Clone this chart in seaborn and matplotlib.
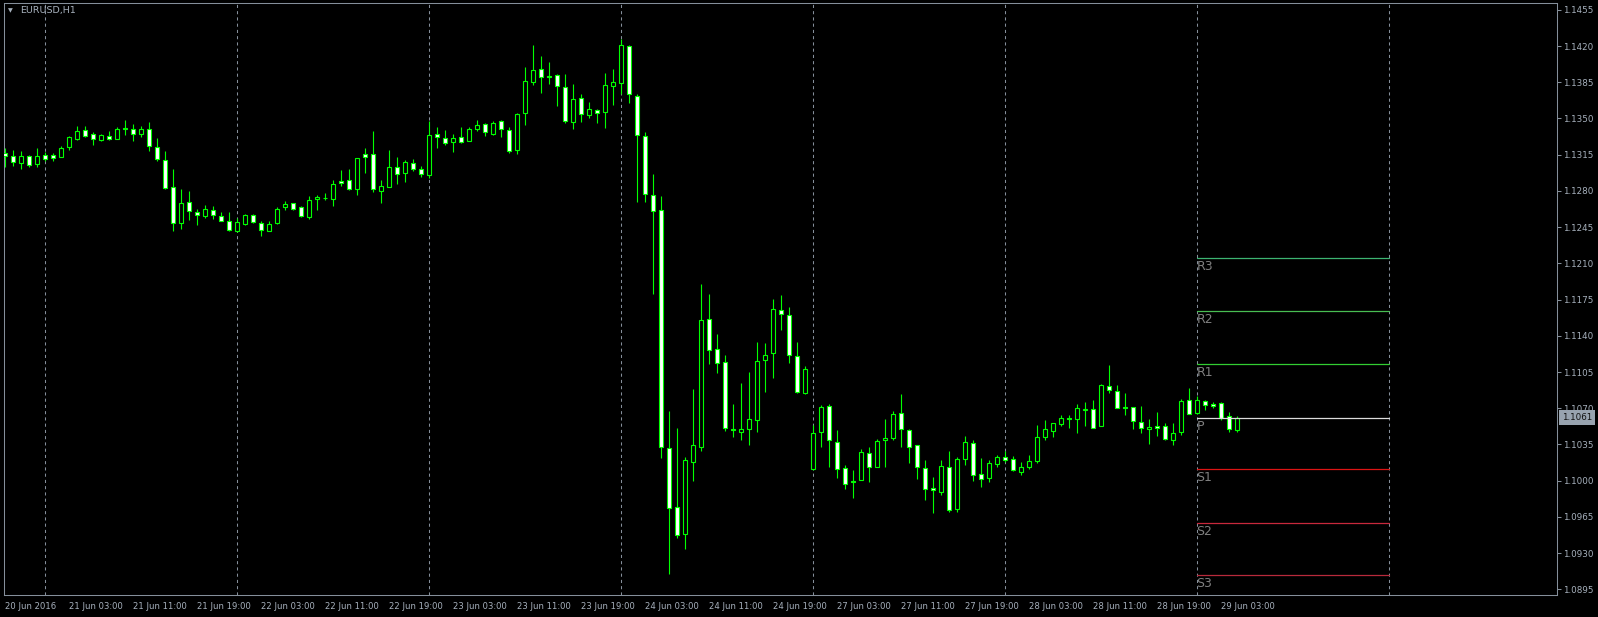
import numpy as np
import pandas as pd
import matplotlib
matplotlib.use("Agg")
import matplotlib.pyplot as plt
import matplotlib.transforms as mtransforms
import seaborn as sns

# EURUSD H1 candles, 20 Jun 2016 19:00 -> 29 Jun 2016 05:00 (weekend skipped)
open_ = [1.1317, 1.1314, 1.1307, 1.1314, 1.1306, 1.1315, 1.1315, 1.1313, 1.1322, 1.1330,
         1.1339, 1.1335, 1.1329, 1.1333, 1.1330, 1.1341, 1.1340, 1.1335, 1.1340, 1.1322,
         1.1310, 1.1284, 1.1249, 1.1269, 1.1260, 1.1256, 1.1262, 1.1256, 1.1251, 1.1241,
         1.1248, 1.1257, 1.1249, 1.1241, 1.1249, 1.1264, 1.1268, 1.1264, 1.1255, 1.1272,
         1.1273, 1.1272, 1.1290, 1.1291, 1.1282, 1.1316, 1.1316, 1.1280, 1.1284, 1.1303,
         1.1297, 1.1307, 1.1301, 1.1295, 1.1335, 1.1331, 1.1327, 1.1332, 1.1328, 1.1340,
         1.1345, 1.1335, 1.1348, 1.1339, 1.1320, 1.1355, 1.1385, 1.1398, 1.1391, 1.1392,
         1.1380, 1.1347, 1.1370, 1.1353, 1.1358, 1.1356, 1.1381, 1.1384, 1.1420, 1.1372,
         1.1333, 1.1276, 1.1262, 1.1032, 1.0975, 1.0948, 1.1018, 1.1033, 1.1156, 1.1127,
         1.1115, 1.1050, 1.1047, 1.1050, 1.1059, 1.1117, 1.1123, 1.1165, 1.1160, 1.1120,
         1.1085, 1.1011, 1.1047, 1.1072, 1.1037, 1.1012, 1.1000, 1.1001, 1.1027, 1.1013,
         1.1039, 1.1041, 1.1065, 1.1049, 1.1034, 1.1012, 1.0993, 1.0989, 1.1013, 1.0973,
         1.1021, 1.1036, 1.1006, 1.1003, 1.1016, 1.1023, 1.1021, 1.1008, 1.1013, 1.1019,
         1.1042, 1.1048, 1.1055, 1.1061, 1.1060, 1.1068, 1.1069, 1.1053, 1.1091, 1.1087,
         1.1071, 1.1071, 1.1057, 1.1050, 1.1053, 1.1053, 1.1039, 1.1047, 1.1078, 1.1065,
         1.1077, 1.1074, 1.1075, 1.1062, 1.1049]
high_ = [1.1321, 1.1320, 1.1319, 1.1315, 1.1321, 1.1318, 1.1317, 1.1323, 1.1333, 1.1343,
         1.1343, 1.1337, 1.1335, 1.1338, 1.1342, 1.1349, 1.1345, 1.1343, 1.1347, 1.1331,
         1.1319, 1.1301, 1.1282, 1.1280, 1.1263, 1.1266, 1.1265, 1.1260, 1.1260, 1.1254,
         1.1258, 1.1258, 1.1251, 1.1251, 1.1264, 1.1270, 1.1268, 1.1265, 1.1275, 1.1276,
         1.1278, 1.1291, 1.1300, 1.1301, 1.1312, 1.1321, 1.1338, 1.1291, 1.1320, 1.1313,
         1.1310, 1.1311, 1.1304, 1.1348, 1.1342, 1.1339, 1.1335, 1.1342, 1.1342, 1.1349,
         1.1346, 1.1348, 1.1349, 1.1342, 1.1355, 1.1400, 1.1421, 1.1410, 1.1405, 1.1393,
         1.1393, 1.1383, 1.1374, 1.1366, 1.1359, 1.1394, 1.1398, 1.1427, 1.1421, 1.1374,
         1.1337, 1.1296, 1.1275, 1.1067, 1.1051, 1.1023, 1.1089, 1.1190, 1.1180, 1.1142,
         1.1121, 1.1074, 1.1094, 1.1105, 1.1134, 1.1133, 1.1176, 1.1179, 1.1168, 1.1134,
         1.1111, 1.1054, 1.1073, 1.1074, 1.1049, 1.1015, 1.1010, 1.1031, 1.1033, 1.1040,
         1.1060, 1.1067, 1.1084, 1.1050, 1.1034, 1.1020, 1.1004, 1.1020, 1.1029, 1.1023,
         1.1043, 1.1039, 1.1022, 1.1020, 1.1025, 1.1029, 1.1024, 1.1018, 1.1025, 1.1054,
         1.1059, 1.1056, 1.1063, 1.1063, 1.1074, 1.1076, 1.1078, 1.1093, 1.1112, 1.1092,
         1.1085, 1.1071, 1.1072, 1.1060, 1.1066, 1.1056, 1.1056, 1.1079, 1.1090, 1.1082,
         1.1078, 1.1076, 1.1076, 1.1066, 1.1062]
low_ = [1.1303, 1.1304, 1.1301, 1.1303, 1.1303, 1.1309, 1.1309, 1.1313, 1.1320, 1.1329,
        1.1332, 1.1324, 1.1328, 1.1329, 1.1330, 1.1334, 1.1328, 1.1332, 1.1319, 1.1309,
        1.1282, 1.1241, 1.1243, 1.1252, 1.1247, 1.1254, 1.1253, 1.1251, 1.1241, 1.1240,
        1.1247, 1.1249, 1.1236, 1.1241, 1.1248, 1.1262, 1.1262, 1.1255, 1.1253, 1.1262,
        1.1271, 1.1265, 1.1285, 1.1281, 1.1276, 1.1297, 1.1279, 1.1268, 1.1284, 1.1287,
        1.1289, 1.1299, 1.1293, 1.1292, 1.1321, 1.1324, 1.1318, 1.1326, 1.1328, 1.1338,
        1.1333, 1.1334, 1.1332, 1.1317, 1.1316, 1.1344, 1.1382, 1.1375, 1.1383, 1.1362,
        1.1346, 1.1340, 1.1347, 1.1350, 1.1346, 1.1341, 1.1363, 1.1374, 1.1365, 1.1269,
        1.1269, 1.1180, 1.1022, 1.0910, 1.0945, 1.0934, 1.1000, 1.1029, 1.1113, 1.1104,
        1.1048, 1.1042, 1.1039, 1.1034, 1.1047, 1.1086, 1.1099, 1.1146, 1.1114, 1.1085,
        1.1084, 1.1010, 1.1033, 1.1013, 1.1003, 1.0992, 1.0983, 1.1001, 1.0999, 1.1013,
        1.1013, 1.1039, 1.1033, 1.1017, 1.1002, 1.0981, 1.0969, 1.0986, 1.0970, 1.0970,
        1.1015, 1.1000, 1.0994, 1.0999, 1.1013, 1.1018, 1.1009, 1.1005, 1.1011, 1.1017,
        1.1039, 1.1042, 1.1053, 1.1051, 1.1046, 1.1053, 1.1051, 1.1053, 1.1085, 1.1070,
        1.1063, 1.1050, 1.1046, 1.1035, 1.1043, 1.1039, 1.1034, 1.1044, 1.1064, 1.1064,
        1.1068, 1.1070, 1.1059, 1.1047, 1.1047]
close_ = [1.1314, 1.1308, 1.1314, 1.1305, 1.1314, 1.1311, 1.1312, 1.1321, 1.1332, 1.1338,
          1.1333, 1.1330, 1.1334, 1.1330, 1.1340, 1.1340, 1.1335, 1.1340, 1.1323, 1.1311,
          1.1283, 1.1249, 1.1268, 1.1261, 1.1257, 1.1263, 1.1257, 1.1251, 1.1242, 1.1250,
          1.1257, 1.1250, 1.1242, 1.1248, 1.1263, 1.1267, 1.1263, 1.1256, 1.1271, 1.1274,
          1.1273, 1.1287, 1.1288, 1.1282, 1.1312, 1.1313, 1.1282, 1.1285, 1.1303, 1.1296,
          1.1308, 1.1301, 1.1296, 1.1334, 1.1332, 1.1326, 1.1331, 1.1327, 1.1340, 1.1344,
          1.1337, 1.1346, 1.1340, 1.1319, 1.1354, 1.1386, 1.1397, 1.1390, 1.1390, 1.1381,
          1.1348, 1.1369, 1.1354, 1.1359, 1.1355, 1.1382, 1.1385, 1.1421, 1.1374, 1.1334,
          1.1277, 1.1261, 1.1033, 1.0974, 1.0947, 1.1020, 1.1034, 1.1155, 1.1126, 1.1114,
          1.1051, 1.1049, 1.1050, 1.1060, 1.1116, 1.1121, 1.1166, 1.1161, 1.1121, 1.1086,
          1.1108, 1.1046, 1.1071, 1.1039, 1.1011, 1.0997, 1.0999, 1.1028, 1.1013, 1.1038,
          1.1041, 1.1064, 1.1050, 1.1033, 1.1013, 1.0992, 1.0991, 1.1014, 1.0972, 1.1021,
          1.1037, 1.1005, 1.1002, 1.1017, 1.1023, 1.1020, 1.1010, 1.1013, 1.1019, 1.1042,
          1.1050, 1.1056, 1.1061, 1.1060, 1.1070, 1.1069, 1.1051, 1.1092, 1.1088, 1.1070,
          1.1070, 1.1058, 1.1051, 1.1052, 1.1051, 1.1040, 1.1046, 1.1077, 1.1064, 1.1078,
          1.1073, 1.1072, 1.1061, 1.1050, 1.1061]

# first bar of each trading day (daily period separators)
day_start_bars = [5, 29, 53, 77, 101, 125, 149, 173]

# bottom time scale, one label every 8 bars
time_labels = ["20 Jun 2016", "21 Jun 03:00", "21 Jun 11:00", "21 Jun 19:00", "22 Jun 03:00",
               "22 Jun 11:00", "22 Jun 19:00", "23 Jun 03:00", "23 Jun 11:00", "23 Jun 19:00",
               "24 Jun 03:00", "24 Jun 11:00", "24 Jun 19:00", "27 Jun 03:00", "27 Jun 11:00",
               "27 Jun 19:00", "28 Jun 03:00", "28 Jun 11:00", "28 Jun 19:00", "29 Jun 03:00"]

# daily pivot levels for 29 Jun
pivot_names = ["R3", "R2", "R1", "P", "S1", "S2", "S3"]
pivot_prices = [1.1215, 1.1164, 1.1113, 1.1061, 1.1011, 1.0959, 1.0909]
pivot_colors = ["#3cb371", "#48bd52", "#32cd32", "#dcdcdc", "#dc1414", "#c8283c", "#b82a3c"]

symbol = "EURUSD,H1"
last_price = 1.1061

# ---- style ----
sns.set_style("dark", {"axes.facecolor": "black", "figure.facecolor": "black"})
plt.rcParams['font.family'] = ['DejaVu Sans']
axis_col = "#858f9a"
text_col = "#a7b1bd"
candle_col = "#00ff00"
lw = 0.8

df = pd.DataFrame({"open": open_, "high": high_, "low": low_, "close": close_})
df["bar"] = np.arange(len(df))
df["bull"] = df["close"] > df["open"]
df["body_lo"] = df[["open", "close"]].min(axis=1)
df["body_h"] = (df["close"] - df["open"]).abs()

fig = plt.figure(figsize=(15.98, 6.17), dpi=100, facecolor="black")
ax = fig.add_axes([4 / 1598, 22 / 617, 1553 / 1598, 592 / 617])
ax.set_facecolor("black")

# period separators
ax.vlines(day_start_bars, 0, 1, transform=ax.get_xaxis_transform(), colors=axis_col,
          linewidth=0.75, linestyles=(0, (3, 3)), zorder=1)

# candles: wick first, then body (bull = black body, bear = white body)
ax.vlines(df["bar"], df["low"], df["high"], colors=candle_col, linewidth=lw, zorder=2)
ax.bar(df["bar"], df["body_h"], bottom=df["body_lo"], width=0.5,
       color=np.where(df["bull"], "black", "white"), edgecolor=candle_col,
       linewidth=lw, zorder=3)

# pivot lines for the current day
piv = pd.DataFrame({
    "level": np.repeat(pivot_names, 2),
    "bar": [day_start_bars[-2], day_start_bars[-1]] * len(pivot_names),
    "price": np.repeat(pivot_prices, 2),
})
sns.lineplot(data=piv, x="bar", y="price", hue="level", palette=dict(zip(pivot_names, pivot_colors)),
             legend=False, linewidth=0.9, ax=ax, zorder=4)
for name, price in zip(pivot_names, pivot_prices):
    ax.annotate(name, xy=(day_start_bars[-2], price), xytext=(-0.5, -1.5), textcoords="offset points",
                ha="left", va="top", fontsize=9, color="#7f7f7f", zorder=5)

ax.set_xlim(-0.125, 194)
ax.set_ylim(1.08895, 1.14616)

# price scale on the right
yt = np.round(np.arange(1.0895, 1.1456, 0.0035), 4)
ax.yaxis.tick_right()
ax.set_yticks(yt)
ax.set_yticklabels([f"{v:.4f}" for v in yt])
ax.tick_params(axis="y", direction="out", length=3, width=0.75, color=axis_col,
               labelcolor=text_col, labelsize=6.3, pad=1.5)

ax.set_xticks(np.arange(0, 8 * len(time_labels), 8))
ax.set_xticklabels(time_labels, ha="left")
ax.tick_params(axis="x", direction="out", length=3, width=0.75, color=axis_col,
               labelcolor=text_col, labelsize=6.1, pad=2)
ax.set_xlabel("")
ax.set_ylabel("")
ax.grid(False)
for s in ax.spines.values():
    s.set_visible(True)
    s.set_color(axis_col)
    s.set_linewidth(0.75)

# current price tag
blend = mtransforms.blended_transform_factory(ax.transAxes, ax.transData)
ax.annotate(f"{last_price:.4f}", xy=(1.0, last_price), xycoords=blend, xytext=(3.6, 0),
            textcoords="offset points", ha="left", va="center", fontsize=6.3, color="#111111",
            bbox=dict(boxstyle="square,pad=0.3", fc="#98a3af", ec="none"),
            annotation_clip=False, zorder=10)

# symbol caption
fig.text(8 / 1598, 1 - 11 / 617, "\u25bc", fontsize=4.5, color=text_col, va="center", ha="left")
fig.text(20 / 1598, 1 - 10.5 / 617, symbol, fontsize=6.8, color=text_col, va="center", ha="left")

fig.savefig("out.png", dpi=100, facecolor="black")
